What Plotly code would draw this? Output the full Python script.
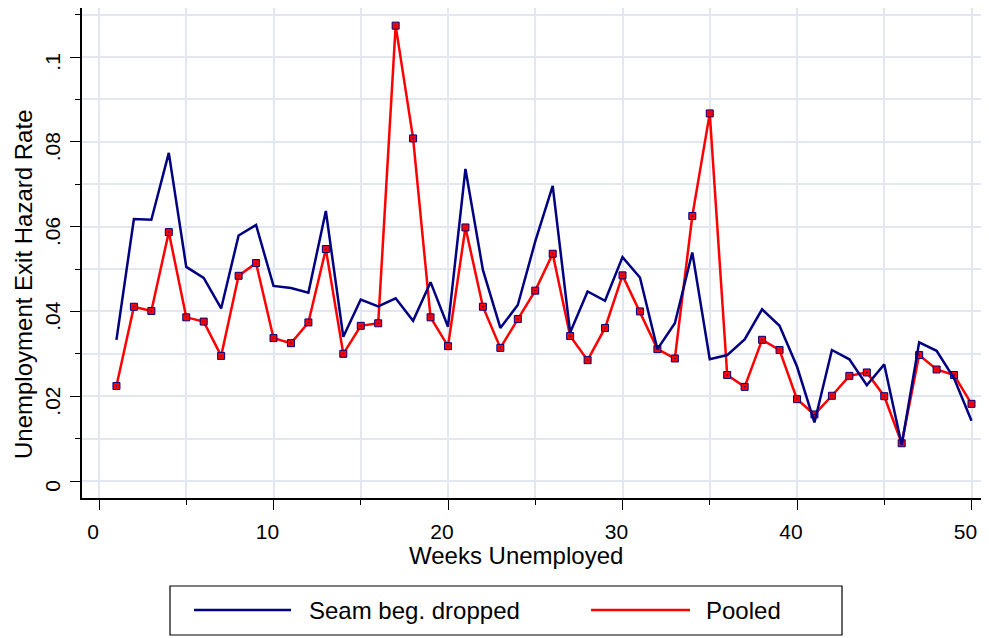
import plotly.graph_objects as go

# ---- data ----
weeks = list(range(1, 51))
seam_dropped = [0.0333, 0.0618, 0.0616, 0.0774, 0.0505, 0.0479, 0.0407, 0.0579, 0.0604, 0.0460,
                0.0455, 0.0444, 0.0637, 0.0340, 0.0428, 0.0412, 0.0431, 0.0378, 0.0469, 0.0364,
                0.0736, 0.0498, 0.0361, 0.0415, 0.0565, 0.0696, 0.0350, 0.0447, 0.0425, 0.0528,
                0.0480, 0.0311, 0.0372, 0.0539, 0.0287, 0.0297, 0.0334, 0.0405, 0.0366, 0.0270,
                0.0138, 0.0309, 0.0287, 0.0226, 0.0275, 0.0085, 0.0327, 0.0307, 0.0242, 0.0142]
pooled = [0.0224, 0.0411, 0.0401, 0.0587, 0.0386, 0.0376, 0.0295, 0.0484, 0.0514, 0.0337,
          0.0325, 0.0374, 0.0547, 0.0300, 0.0366, 0.0372, 0.1074, 0.0808, 0.0386, 0.0318,
          0.0598, 0.0411, 0.0314, 0.0382, 0.0449, 0.0536, 0.0342, 0.0285, 0.0361, 0.0485,
          0.0400, 0.0311, 0.0289, 0.0625, 0.0867, 0.0250, 0.0222, 0.0333, 0.0309, 0.0193,
          0.0157, 0.0201, 0.0248, 0.0256, 0.0200, 0.0089, 0.0297, 0.0263, 0.0250, 0.0182]
series_names = ["Seam beg. dropped", "Pooled"]
series_colors = ["#000080", "#FF0000"]
x_tickvals = [0, 10, 20, 30, 40, 50]
x_ticktext = ["0", "10", "20", "30", "40", "50"]
y_tickvals = [0, 0.02, 0.04, 0.06, 0.08, 0.1]
y_ticktext = ["0", ".02", ".04", ".06", ".08", ".1"]
title_text = "Unemployment Exit Hazard by Duration"
x_title = "Weeks Unemployed"
y_title = "Unemployment Exit Hazard Rate"

# page body has an 8px default margin; lay the figure out in page pixels
OFF = 8
W, H = 989 - OFF, 638 - OFF
ML, MR, MT, MB = 82 - OFF, 0, 8 - OFF, 638 - 498
PW, PH = W - ML - MR, H - MT - MB
FONT = "Liberation Sans, Arial, sans-serif"
GRID = "#E3E7F1"
X_RANGE = [-0.974, 51.003]
Y_RANGE = [-0.00401, 0.11156]
# tick labels in the original sit slightly off their ticks (left / below)
DX = 6 * (X_RANGE[1] - X_RANGE[0]) / PW
DY = 8 * (Y_RANGE[1] - Y_RANGE[0]) / PH


def px(xp):
    return (xp - OFF - ML) / PW


def py(yp):
    return (H - MB - (yp - OFF)) / PH


fig = go.Figure()
# invisible carrier so the label-only overlay axes get drawn
fig.add_trace(go.Scatter(
    x=weeks, y=pooled, xaxis="x2", yaxis="y2", mode="markers",
    marker=dict(opacity=0, size=1), hoverinfo="skip", showlegend=False))
fig.add_trace(go.Scatter(
    x=weeks, y=pooled, mode="lines+markers", name=series_names[1],
    line=dict(color=series_colors[1], width=2.5),
    marker=dict(symbol="square-dot", size=7, color=series_colors[1],
                line=dict(color=series_colors[0], width=1)),
    showlegend=False))
fig.add_trace(go.Scatter(
    x=weeks, y=seam_dropped, mode="lines", name=series_names[0],
    line=dict(color=series_colors[0], width=2.5),
    showlegend=False))

tickfont = dict(family=FONT, size=21, color="black")

fig.update_layout(
    xaxis=dict(
        range=X_RANGE, tickmode="array", tickvals=x_tickvals, showticklabels=False,
        ticks="outside", ticklen=10, tickwidth=1.2, tickcolor="black",
        showline=True, linecolor="black", linewidth=1.5,
        showgrid=True, gridcolor=GRID, gridwidth=2, zeroline=False,
        minor=dict(tickmode="linear", tick0=0, dtick=5, ticks="outside", ticklen=5,
                   tickwidth=1.2, tickcolor="black", showgrid=True, gridcolor=GRID, gridwidth=2),
    ),
    xaxis2=dict(
        overlaying="x", anchor="y", side="bottom",
        range=[X_RANGE[0] + DX, X_RANGE[1] + DX], tickmode="array",
        tickvals=x_tickvals, ticktext=x_ticktext,
        ticks="outside", ticklen=10, tickcolor="rgba(0,0,0,0)",
        showline=False, showgrid=False, zeroline=False,
        ticklabelstandoff=5, tickfont=tickfont,
    ),
    yaxis=dict(
        range=Y_RANGE, tickmode="array", tickvals=y_tickvals, showticklabels=False,
        ticks="outside", ticklen=10, tickwidth=1.2, tickcolor="black",
        showline=True, linecolor="black", linewidth=1.5,
        showgrid=True, gridcolor=GRID, gridwidth=2, zeroline=False,
        minor=dict(tickmode="linear", tick0=0, dtick=0.01, ticks="outside", ticklen=5,
                   tickwidth=1.2, tickcolor="black", showgrid=True, gridcolor=GRID, gridwidth=2),
    ),
    yaxis2=dict(
        overlaying="y", anchor="x", side="left",
        range=[Y_RANGE[0] + DY, Y_RANGE[1] + DY], tickmode="array",
        tickvals=y_tickvals, ticktext=y_ticktext, tickangle=-90,
        ticks="outside", ticklen=10, tickcolor="rgba(0,0,0,0)",
        showline=False, showgrid=False, zeroline=False,
        ticklabelstandoff=3, tickfont=tickfont,
    ),
)

annotations = [
    dict(text=title_text, x=px(336), y=py(4.5), xref="paper", yref="paper",
         xanchor="left", yanchor="bottom", showarrow=False,
         font=dict(family=FONT, size=27, color="black")),
    dict(text=x_title, x=px(516), y=py(555), xref="paper", yref="paper",
         xanchor="center", yanchor="middle", showarrow=False,
         font=dict(family=FONT, size=24, color="black")),
    dict(text=y_title, x=px(23), y=py(285), xref="paper", yref="paper",
         xanchor="center", yanchor="middle", textangle=-90, showarrow=False,
         font=dict(family=FONT, size=24, color="black")),
    dict(text=series_names[0], x=px(307), y=py(610), xref="paper", yref="paper",
         xanchor="left", yanchor="middle", showarrow=False,
         font=dict(family=FONT, size=24, color="black")),
    dict(text=series_names[1], x=px(704), y=py(610), xref="paper", yref="paper",
         xanchor="left", yanchor="middle", showarrow=False,
         font=dict(family=FONT, size=24, color="black")),
]
shapes = [
    dict(type="rect", xref="paper", yref="paper", x0=px(170), x1=px(842), y0=py(635), y1=py(586),
         line=dict(color="black", width=1.2), fillcolor="white", layer="above"),
    dict(type="line", xref="paper", yref="paper", x0=px(194), x1=px(291), y0=py(610), y1=py(610),
         line=dict(color=series_colors[0], width=2.5)),
    dict(type="line", xref="paper", yref="paper", x0=px(591), x1=px(690), y0=py(610), y1=py(610),
         line=dict(color=series_colors[1], width=2.5)),
]

fig.update_layout(
    width=W, height=H, margin=dict(l=ML, r=MR, t=MT, b=MB, pad=0),
    paper_bgcolor="white", plot_bgcolor="white",
    font=dict(family=FONT, color="black"),
    showlegend=False, annotations=annotations, shapes=shapes,
)

fig.write_html("out.html")
